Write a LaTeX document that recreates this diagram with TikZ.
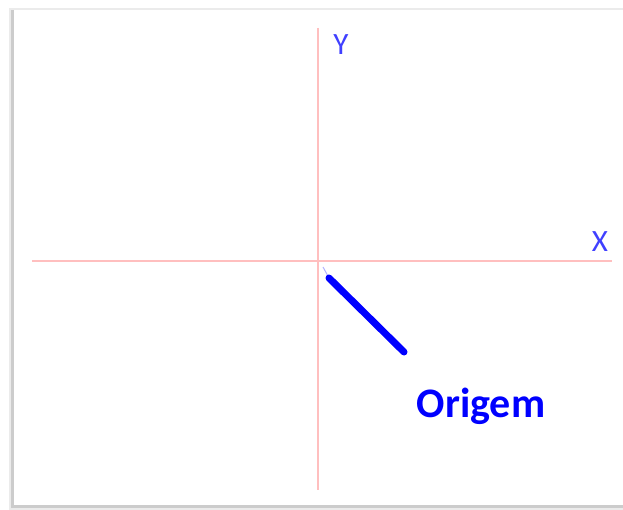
\documentclass[tikz,border=0pt]{standalone}
\usepackage{fontspec}
\setmainfont{Carlito}
\begin{document}
\begin{tikzpicture}[x=1pt,y=-1pt,
  axis/.style={draw=red!25, line width=1.2pt},
  lbl/.style={text=blue!75!white, font=\fontsize{31}{36}\selectfont, inner sep=0pt},
  marker/.style={draw=blue, line width=7pt, line cap=round}]
\useasboundingbox (0,0) rectangle (623,510);
\fill[white] (0,0) rectangle (623,510);
% frame shadow
\fill[black!8] (9,8) rectangle (623,510);
\fill[black!20] (11,10) rectangle (623,508);
\fill[white] (14,10) rectangle (623,505);
% axes
\coordinate (xl) at (32,261);
\coordinate (xr) at (612,261);
\coordinate (yt) at (318,28);
\coordinate (yb) at (318,490);
\draw[axis] (xl) -- (xr);
\draw[axis] (yt) -- (yb);
\node[lbl, anchor=center] (Y) at (341,45) {Y};
\node[lbl, anchor=center] (X) at (600,242) {X};
% origin marker
\coordinate (m0) at (323,267);
\coordinate (m1) at (329,278);
\coordinate (m2) at (404,352);
\draw[blue!30, line width=1pt] (m0) -- (m1);
\draw[marker] (m1) -- (m2);
\node[text=blue, font=\bfseries\fontsize{42}{48}\selectfont, inner sep=0pt] (O) at (481,406) {Origem};
\end{tikzpicture}
\end{document}
